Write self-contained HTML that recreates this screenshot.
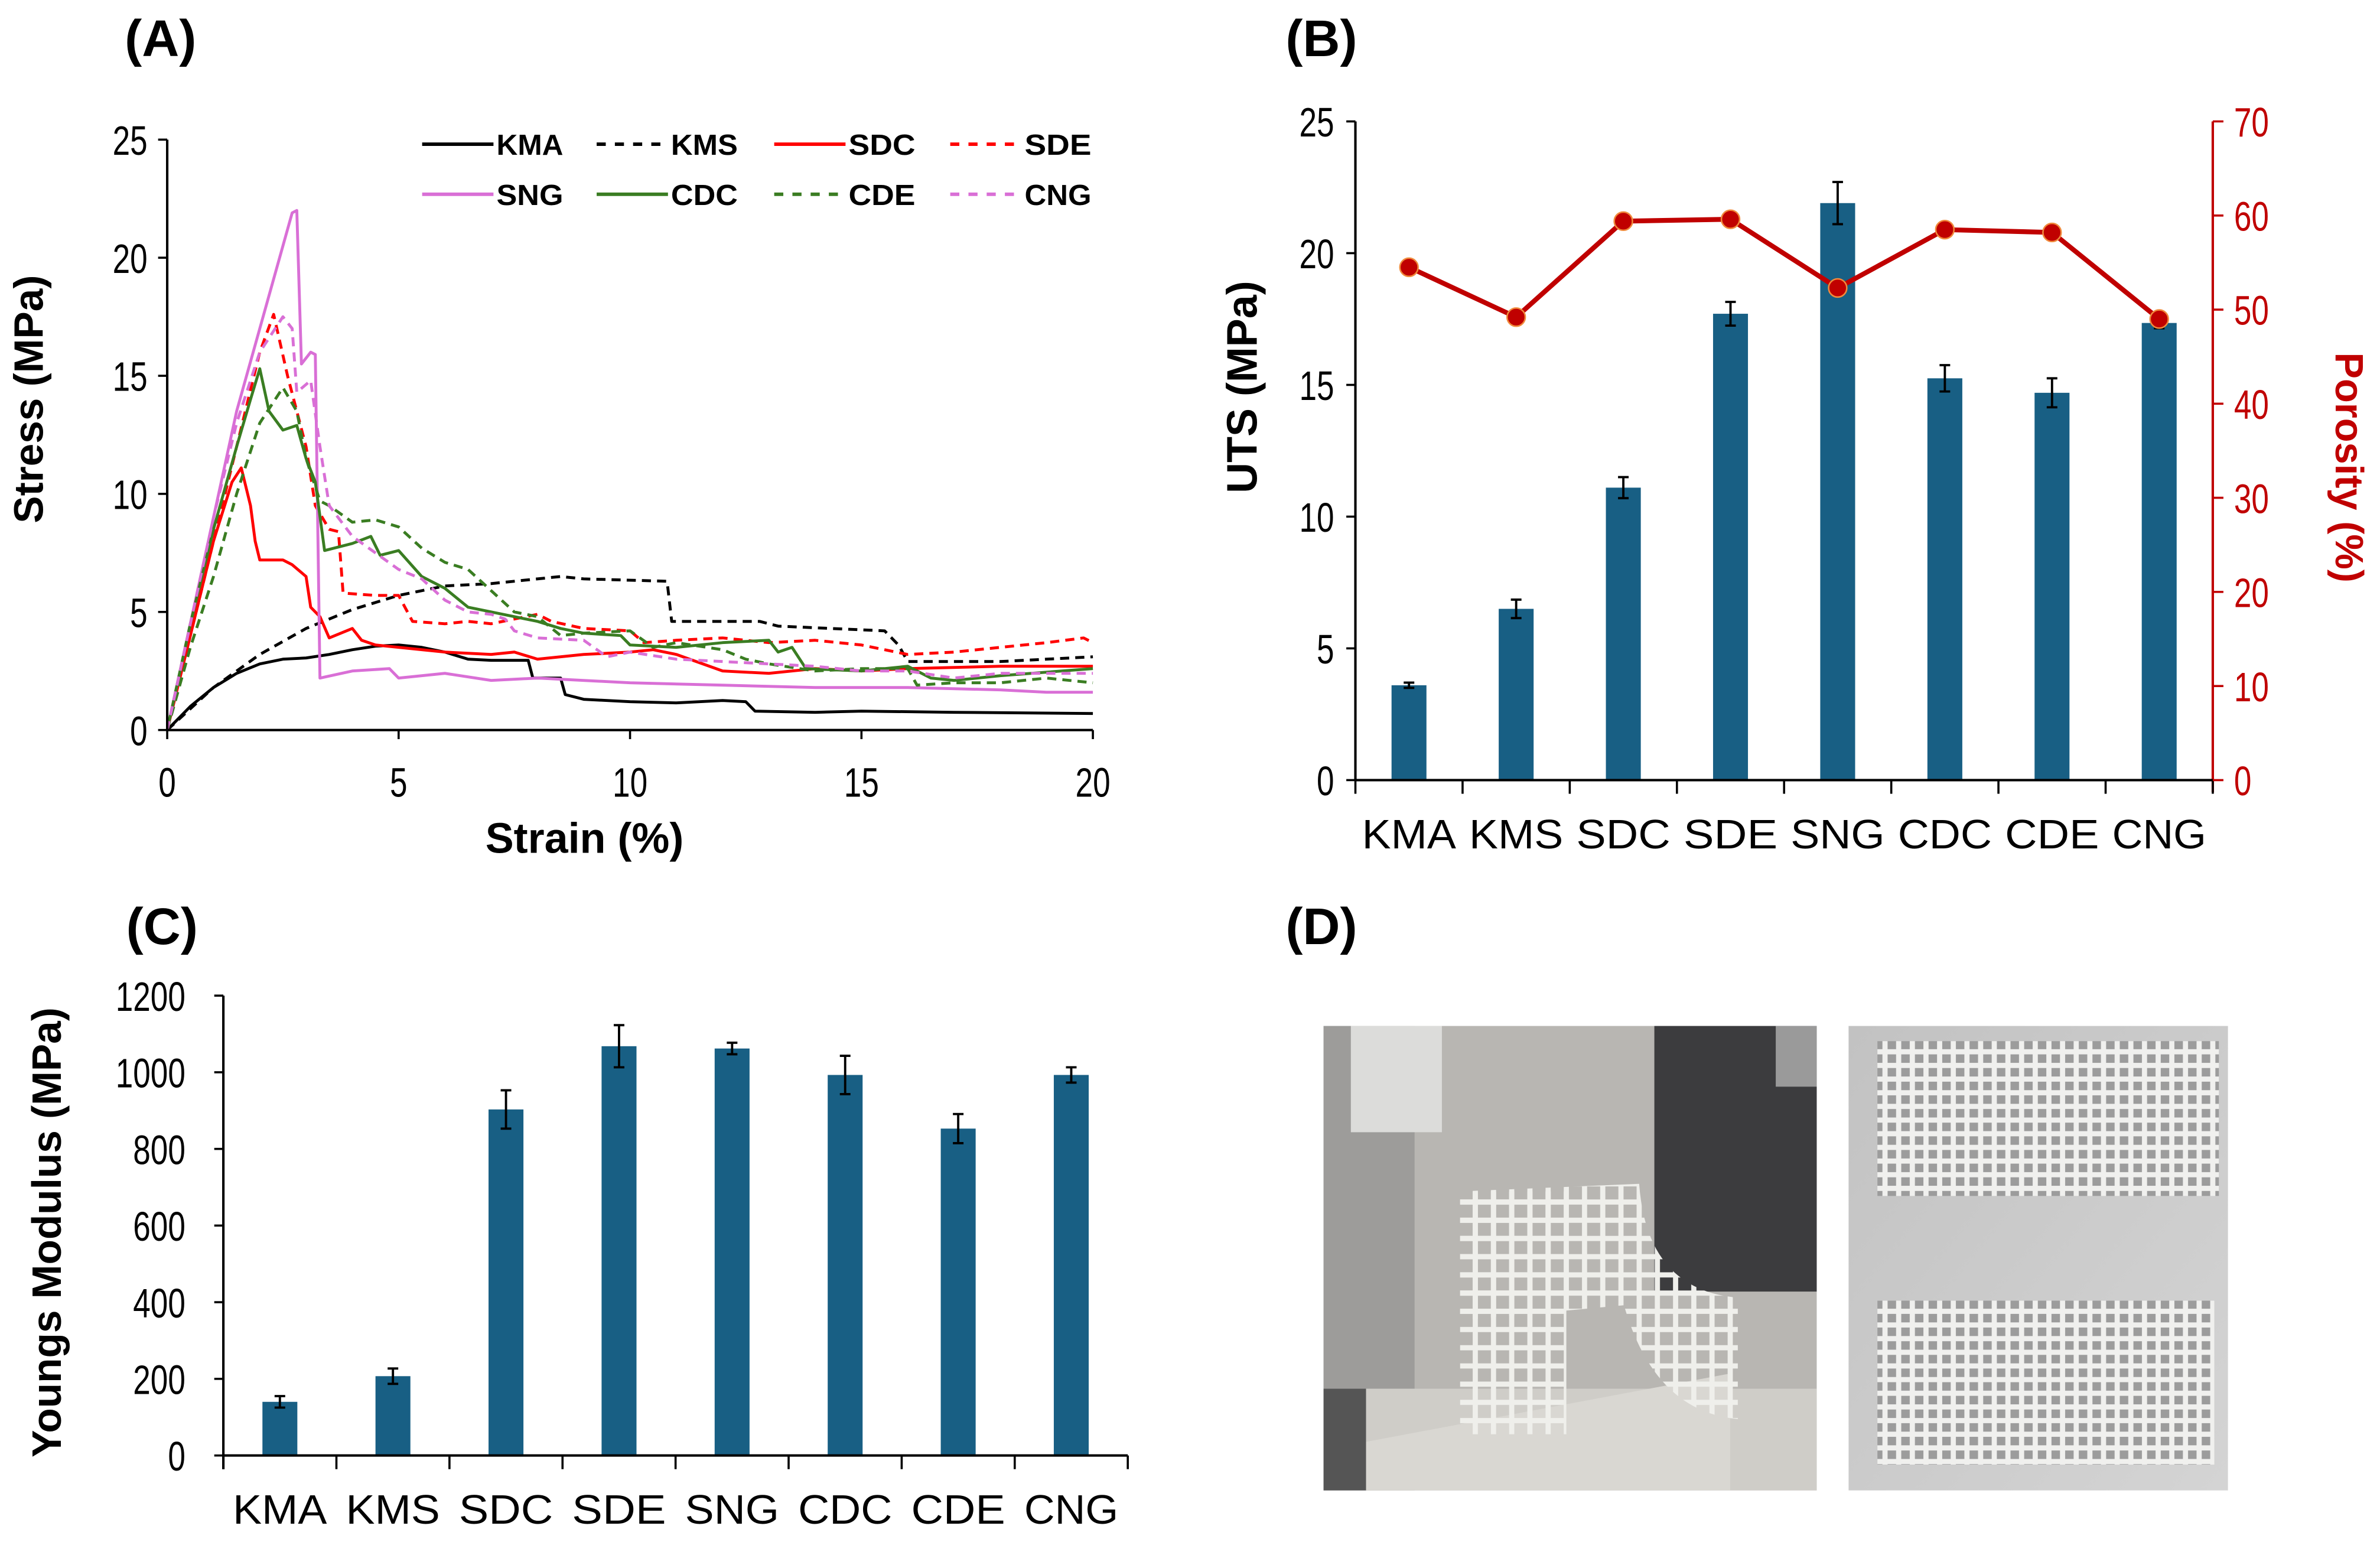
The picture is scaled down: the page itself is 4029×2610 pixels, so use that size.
<!DOCTYPE html>
<html><head><meta charset="utf-8">
<style>
html,body{margin:0;padding:0;background:#fff;}
svg{display:block;}
text{font-family:"Liberation Sans",Arial,sans-serif;}
</style></head>
<body>
<svg id="fig" width="4029" height="2610" viewBox="0 0 1568 1016" xmlns="http://www.w3.org/2000/svg">
<defs>
  <pattern id="grid1" width="12" height="12" patternUnits="userSpaceOnUse">
    <rect width="12" height="12" fill="none" stroke="#efefeb" stroke-width="3.4"/>
  </pattern>
  <pattern id="grid2" width="9" height="9" patternUnits="userSpaceOnUse">
    <rect width="9" height="9" fill="#9c9c9c" stroke="#f0f0ee" stroke-width="3.4"/>
  </pattern>
  <linearGradient id="bgR" x1="0" y1="0" x2="1" y2="1">
    <stop offset="0" stop-color="#c2c2c2"/><stop offset="1" stop-color="#d4d4d4"/>
  </linearGradient>
</defs>
<g id="panelA"></g>
<g id="panelB"></g>
<g id="panelC"></g>
<g id="panelD">
  <text x="847" y="622" font-size="34" font-weight="bold">(D)</text>
  <g>
    <rect x="872" y="676" width="325" height="306" fill="#b8b6b2"/>
    <rect x="872" y="676" width="60" height="306" fill="#9d9c9a"/>
    <rect x="890" y="676" width="60" height="70" fill="#dcdcda"/>
    <rect x="1090" y="676" width="107" height="175" fill="#3c3c3e"/>
    <rect x="1170" y="676" width="27" height="40" fill="#9a9a9a"/>
    <rect x="872" y="915" width="325" height="67" fill="#cfcdc8"/>
    <polygon points="900,950 1140,905 1140,982 900,982" fill="#d9d7d2"/>
    <rect x="872" y="915" width="28" height="67" fill="#555"/>
    <path d="M962,785 L1080,780 Q1085,850 1145,855 L1145,935 Q1090,930 1070,860 L962,870 Z" fill="url(#grid1)"/>
    <rect x="962" y="785" width="70" height="160" fill="url(#grid1)"/>
  </g>
  <g>
    <rect x="1218" y="676" width="250" height="306" fill="url(#bgR)"/>
    <rect x="1237" y="686" width="225" height="102" fill="url(#grid2)"/>
    <rect x="1237" y="857" width="222" height="108" fill="url(#grid2)"/>
  </g>
</g>
</svg>
<script>
const NS='http://www.w3.org/2000/svg';
function mk(parent,tag,attrs,txt){const e=document.createElementNS(NS,tag);for(const k in attrs)e.setAttribute(k,attrs[k]);if(txt!==undefined)e.textContent=txt;parent.appendChild(e);return e;}

/* ---------- Panel A data ---------- */
const strainTicks=[0,5,10,15,20];
const stressTicks=[0,5,10,15,20,25];
const seriesNames=['KMA','KMS','SDC','SDE','SNG','CDC','CDE','CNG'];
const seriesColors=['#000000','#000000','#ff0000','#ff0000','#d96fd6','#3a7d22','#3a7d22','#d96fd6'];
const seriesDashed=[false,true,false,true,false,false,true,true];
const kmaStrain=[0,0.5,1,1.5,2,2.5,3,3.5,4,4.5,5,5.5,6,6.5,7,7.8,7.9,8.5,8.6,9,10,11,12,12.5,12.7,14,15,17,20];
const kmaStress=[0,1,1.8,2.4,2.8,3,3.05,3.2,3.4,3.55,3.6,3.5,3.3,3.0,2.95,2.95,2.2,2.2,1.5,1.3,1.2,1.15,1.25,1.2,0.8,0.75,0.8,0.75,0.7];
const kmsStrain=[0,1,2,3,4,5,6,7,8,8.5,9,10.8,10.9,12,12.8,13.2,15.5,15.8,16,17,18,20];
const kmsStress=[0,1.8,3.2,4.3,5.1,5.7,6.1,6.2,6.4,6.5,6.4,6.3,4.6,4.6,4.6,4.4,4.2,3.6,2.9,2.9,2.9,3.1];
const sdcStrain=[0,0.5,1,1.4,1.6,1.8,1.9,2,2.5,2.7,3,3.1,3.3,3.5,4,4.2,4.5,5,6,7,7.5,8,9,10,10.5,11,12,13,14,15,16,18,20];
const sdcStress=[0,4,8,10.5,11.1,9.5,8,7.2,7.2,7.0,6.5,5.2,4.8,3.9,4.3,3.8,3.6,3.5,3.3,3.2,3.3,3.0,3.2,3.3,3.4,3.2,2.5,2.4,2.6,2.5,2.6,2.7,2.7];
const sdeStrain=[0,0.5,1,1.5,2,2.3,2.6,2.8,3,3.2,3.5,3.7,3.8,4.5,5,5.3,6,6.5,7,7.5,8,8.3,9,10,10.3,11,12,13,14,15,16,17,19,19.8,20];
const sdeStress=[0,4,8,12,16,17.6,15,13.5,12,9.5,8.5,8.4,5.8,5.7,5.7,4.6,4.5,4.6,4.5,4.7,4.9,4.6,4.3,4.2,3.7,3.8,3.9,3.7,3.8,3.6,3.2,3.3,3.7,3.9,3.7];
const sngStrain=[0,0.5,1,1.5,2,2.5,2.7,2.8,2.9,3.1,3.2,3.3,4,4.8,5,6,7,8,10,12,14,16,18,19,20];
const sngStress=[0,4.5,9,13.5,17,20.5,21.9,22,15.5,16,15.9,2.2,2.5,2.6,2.2,2.4,2.1,2.2,2.0,1.9,1.8,1.8,1.7,1.6,1.6];
const cdcStrain=[0,0.5,1,1.5,1.8,2,2.2,2.5,2.8,3,3.2,3.4,4,4.4,4.6,5,5.5,6,6.5,7,7.5,8,8.5,9,9.8,10,11,12,13,13.2,13.5,13.8,15,16,16.5,17,18,20];
const cdcStress=[0,4.5,8.5,12,14,15.3,13.5,12.7,12.9,11.5,10.5,7.6,7.9,8.2,7.4,7.6,6.5,6.0,5.2,5.0,4.8,4.6,4.3,4.1,4.0,3.6,3.5,3.7,3.8,3.3,3.5,2.6,2.5,2.7,2.2,2.1,2.3,2.6];
const cdeStrain=[0,0.5,1,1.5,2,2.3,2.5,2.8,3,3.3,3.5,4,4.5,5,5.5,6,6.5,7,7.5,8,8.5,9,10,10.5,11,12,12.5,13,14,15,16,16.2,17,18,19,20];
const cdeStress=[0,3.5,6.5,10,13,13.9,14.5,13.5,11.5,9.7,9.5,8.8,8.9,8.6,7.7,7.1,6.8,5.9,5.0,4.8,4.0,4.1,4.2,3.5,3.7,3.4,3.0,2.8,2.5,2.6,2.6,1.9,2.0,2.0,2.2,2.0];
const cngStrain=[0,0.5,1,1.5,2,2.5,2.7,2.8,3.1,3.3,3.5,4,4.5,5,5.5,6,6.5,7,7.3,7.5,8,9,9.5,10,11,12,13,14,15,16,17,18,20];
const cngStress=[0,4.5,9,13,16,17.5,17,14.3,14.8,12,9.5,8.2,7.5,6.8,6.4,5.5,5.0,4.9,4.7,4.2,3.9,3.8,3.1,3.3,3.0,2.9,2.8,2.7,2.5,2.5,2.2,2.4,2.4];
const seriesStrain=[kmaStrain,kmsStrain,sdcStrain,sdeStrain,sngStrain,cdcStrain,cdeStrain,cngStrain];
const seriesStress=[kmaStress,kmsStress,sdcStress,sdeStress,sngStress,cdcStress,cdeStress,cngStress];

/* ---------- Panel B data ---------- */
const categories=['KMA','KMS','SDC','SDE','SNG','CDC','CDE','CNG'];
const utsValues=[3.6,6.5,11.1,17.7,21.9,15.25,14.7,17.35];
const utsErrors=[0.1,0.35,0.4,0.45,0.8,0.5,0.55,0.2];
const porosityValues=[54.5,49.2,59.4,59.6,52.3,58.5,58.2,49.0];
const utsTicks=[0,5,10,15,20,25];
const porosityTicks=[0,10,20,30,40,50,60,70];

/* ---------- Panel C data ---------- */
const modulusValues=[140,207,903,1068,1062,993,853,993];
const modulusErrors=[15,20,50,55,15,50,38,20];
const modulusTicks=[0,200,400,600,800,1000,1200];

const BAR='#185f84';
const TF=27; // tick font size
function tick(g,x,y,str,anchor,fill){
  const w=str.length*11.5;
  const a={x:x,y:y,'font-size':TF,'text-anchor':anchor,textLength:w,lengthAdjust:'spacingAndGlyphs'};
  if(fill)a.fill=fill;
  return mk(g,'text',a,str);
}

/* ===== Panel A ===== */
(function(){
  const g=document.getElementById('panelA');
  const X0=110,X1=720,Y0=481,Y1=92;
  const xs=v=>X0+(v-0)/(20-0)*(X1-X0);
  const ys=v=>Y0-(v-0)/(25-0)*(Y0-Y1);
  let t=mk(g,'text',{x:82,y:37,'font-size':34,'font-weight':'bold'},'(A)');
  
  
  for(let s=0;s<seriesNames.length;s++){
    const pts=seriesStrain[s].map((v,i)=>xs(v).toFixed(2)+','+ys(seriesStress[s][i]).toFixed(2)).join(' ');
    const p=mk(g,'polyline',{points:pts,fill:'none',stroke:seriesColors[s],'stroke-width':1.9,'stroke-linejoin':'round'});
    if(seriesDashed[s])p.setAttribute('stroke-dasharray','6,4');
    
    
  }
  let ax=mk(g,'line',{x1:X0,y1:Y1,x2:X0,y2:Y0,stroke:'#000','stroke-width':1.6});
  
  
  ax=mk(g,'line',{x1:X0,y1:Y0,x2:X1,y2:Y0,stroke:'#000','stroke-width':1.6});
  
  
  stressTicks.forEach(v=>{
    mk(g,'line',{x1:X0-6,x2:X0,y1:ys(v),y2:ys(v),stroke:'#000','stroke-width':1.4});
    const tl=tick(g,X0-13,ys(v)+10,String(v),'end');
    
    
  });
  strainTicks.forEach(v=>{
    mk(g,'line',{x1:xs(v),x2:xs(v),y1:Y0,y2:Y0+6,stroke:'#000','stroke-width':1.4});
    const tl=tick(g,xs(v),Y0+44,String(v),'middle');
    
    
  });
  t=mk(g,'text',{x:385,y:562,'font-size':28,'font-weight':'bold','text-anchor':'middle'},'Strain (%)');
  
  
  t=mk(g,'text',{x:0,y:0,'font-size':27,'font-weight':'bold','text-anchor':'middle',transform:'translate(28,263) rotate(-90)'},'Stress (MPa)');
  
  
  const lx=[278,393,510,626], ly=[95,128];
  for(let s=0;s<seriesNames.length;s++){
    const cx=lx[s%4], cy=ly[Math.floor(s/4)];
    const lg=mk(g,'g',{});
    
    
    const l=mk(lg,'line',{x1:cx,x2:cx+47,y1:cy,y2:cy,stroke:seriesColors[s],'stroke-width':2.3});
    if(seriesDashed[s])l.setAttribute('stroke-dasharray','6,6');
    mk(lg,'text',{x:cx+49,y:cy+7,'font-size':19,'font-weight':'bold',textLength:44,lengthAdjust:'spacingAndGlyphs'},seriesNames[s]);
  }
})();

/* ===== Panel B ===== */
(function(){
  const g=document.getElementById('panelB');
  const X0=893,X1=1458,Y0=514,Y1=80;
  const n=categories.length, bw=(X1-X0)/n;
  const cx=i=>X0+bw*(i+0.5);
  const ys=v=>Y0-v/25*(Y0-Y1);
  const yr=v=>Y0-v/70*(Y0-Y1);
  let t=mk(g,'text',{x:847,y:37,'font-size':34,'font-weight':'bold'},'(B)');
  
  
  utsValues.forEach((v,i)=>{
    const b=mk(g,'rect',{x:cx(i)-11.5,y:ys(v),width:23,height:Y0-ys(v),fill:BAR});
    
    
    const e=utsErrors[i];
    const eb=mk(g,'path',{d:`M${cx(i)},${ys(v+e)}V${ys(v-e)}M${cx(i)-3.5},${ys(v+e)}h7M${cx(i)-3.5},${ys(v-e)}h7`,stroke:'#000','stroke-width':1.5,fill:'none'});
    
    
  });
  const pl=mk(g,'polyline',{points:porosityValues.map((v,i)=>cx(i)+','+yr(v)).join(' '),fill:'none',stroke:'#c00000','stroke-width':3.2});
  
  
  porosityValues.forEach((v,i)=>{
    const c=mk(g,'circle',{cx:cx(i),cy:yr(v),r:6,fill:'#c00000',stroke:'#f08a3c','stroke-width':1});
    
    
  });
  let a=mk(g,'line',{x1:X0,y1:Y1,x2:X0,y2:Y0,stroke:'#000','stroke-width':1.6});
  
  
  a=mk(g,'line',{x1:X1,y1:Y1,x2:X1,y2:Y0+8,stroke:'#c00000','stroke-width':1.6});
  
  
  a=mk(g,'line',{x1:X0,y1:Y0,x2:X1,y2:Y0,stroke:'#000','stroke-width':1.6});
  
  
  for(let i=0;i<=n;i++) mk(g,'line',{x1:X0+bw*i,x2:X0+bw*i,y1:Y0,y2:Y0+9,stroke:'#000','stroke-width':1.4});
  utsTicks.forEach(v=>{
    mk(g,'line',{x1:X0-6,x2:X0,y1:ys(v),y2:ys(v),stroke:'#000','stroke-width':1.4});
    const tl=tick(g,X0-14,ys(v)+10,String(v),'end');
    
    
  });
  porosityTicks.forEach(v=>{
    mk(g,'line',{x1:X1,x2:X1+7,y1:yr(v),y2:yr(v),stroke:'#c00000','stroke-width':1.4});
    const tl=tick(g,X1+14,yr(v)+10,String(v),'start','#c00000');
    
    
  });
  categories.forEach((c,i)=>{
    const tl=mk(g,'text',{x:cx(i),y:Y0+45,'font-size':27,'text-anchor':'middle',textLength:62,lengthAdjust:'spacingAndGlyphs'},c);
    
    
  });
  t=mk(g,'text',{x:0,y:0,'font-size':28,'font-weight':'bold','text-anchor':'middle',transform:'translate(828,255) rotate(-90)'},'UTS (MPa)');
  
  
  t=mk(g,'text',{x:0,y:0,'font-size':26,'font-weight':'bold',fill:'#c00000','text-anchor':'middle',transform:'translate(1539,308) rotate(90)'},'Porosity (%)');
  
  
})();

/* ===== Panel C ===== */
(function(){
  const g=document.getElementById('panelC');
  const X0=147,X1=743,Y0=959,Y1=656;
  const n=categories.length, bw=(X1-X0)/n;
  const cx=i=>X0+bw*(i+0.5);
  const ys=v=>Y0-v/1200*(Y0-Y1);
  let t=mk(g,'text',{x:83,y:622,'font-size':34,'font-weight':'bold'},'(C)');
  
  
  modulusValues.forEach((v,i)=>{
    const b=mk(g,'rect',{x:cx(i)-11.5,y:ys(v),width:23,height:Y0-ys(v),fill:BAR});
    
    
    const e=modulusErrors[i];
    const eb=mk(g,'path',{d:`M${cx(i)},${ys(v+e)}V${ys(v-e)}M${cx(i)-3.5},${ys(v+e)}h7M${cx(i)-3.5},${ys(v-e)}h7`,stroke:'#000','stroke-width':1.5,fill:'none'});
    
    
  });
  let a=mk(g,'line',{x1:X0,y1:Y1,x2:X0,y2:Y0+9,stroke:'#000','stroke-width':1.6});
  
  
  a=mk(g,'line',{x1:X0,y1:Y0,x2:X1,y2:Y0,stroke:'#000','stroke-width':1.6});
  
  
  for(let i=0;i<=n;i++) mk(g,'line',{x1:X0+bw*i,x2:X0+bw*i,y1:Y0,y2:Y0+9,stroke:'#000','stroke-width':1.4});
  modulusTicks.forEach(v=>{
    mk(g,'line',{x1:X0-6,x2:X0,y1:ys(v),y2:ys(v),stroke:'#000','stroke-width':1.4});
    const tl=tick(g,X0-25,ys(v)+10,String(v),'end');
    
    
  });
  categories.forEach((c,i)=>{
    const tl=mk(g,'text',{x:cx(i),y:Y0+45,'font-size':27,'text-anchor':'middle',textLength:62,lengthAdjust:'spacingAndGlyphs'},c);
    
    
  });
  t=mk(g,'text',{x:0,y:0,'font-size':27,'font-weight':'bold','text-anchor':'middle',transform:'translate(40,812) rotate(-90)'},'Youngs Modulus (MPa)');
  
  
})();
</script>
</body></html>
